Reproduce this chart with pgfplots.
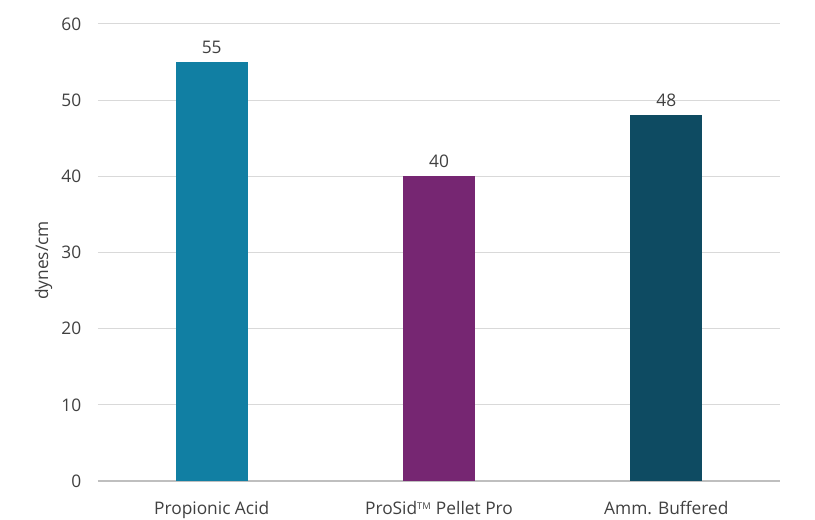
\documentclass[border=0pt]{standalone}
\usepackage{pgfplots}
\pgfplotsset{compat=1.18}
\usepackage{fontspec}
\setmainfont{Open Sans}
\definecolor{barA}{HTML}{117FA3}
\definecolor{barB}{HTML}{762672}
\definecolor{barC}{HTML}{0E4B62}
\definecolor{txt}{HTML}{404040}
\definecolor{gridc}{HTML}{D9D9D9}
\definecolor{axc}{HTML}{BFBFBF}
\begin{document}
\begin{tikzpicture}
\useasboundingbox (-73.5pt,-29.25pt) rectangle (537.75pt,360.75pt);
\begin{axis}[
    at={(0,0)}, anchor=south west,
    scale only axis,
    width=511.5pt, height=342.75pt,
    xmin=-0.5, xmax=2.5,
    ymin=0, ymax=60,
    ytick={0,10,...,60},
    xtick={0,1,2},
    xticklabels={Propionic Acid, ProSid\textsuperscript{\scriptsize TM} Pellet Pro, Amm. Buffered},
    axis lines*=left,
    y axis line style={draw=none},
    x axis line style={axc, line width=1.2pt},
    ymajorgrids,
    grid style={gridc, line width=0.75pt},
    major tick length=0pt,
    tick style={draw=none},
    ticklabel style={font=\fontsize{13}{15}\selectfont, text=txt},
    /pgf/number format/assume math mode=true,
    xticklabel style={yshift=-12pt},
    yticklabel style={xshift=-9pt},
    ylabel={dynes/cm},
    every axis y label/.style={at={(ticklabel cs:0.5)}, rotate=90, anchor=south, xshift=-6pt,
        font=\fontsize{13}{15}\selectfont, text=txt},
    ybar, bar width=54pt, bar shift=0pt,
    nodes near coords,
    nodes near coords style={font=\fontsize{13}{15}\selectfont, text=txt, yshift=3pt},
    clip=false,
]
\addplot[fill=barA, draw=none] coordinates {(0,55)};
\addplot[fill=barB, draw=none] coordinates {(1,40)};
\addplot[fill=barC, draw=none] coordinates {(2,48)};
\end{axis}
\end{tikzpicture}
\end{document}
